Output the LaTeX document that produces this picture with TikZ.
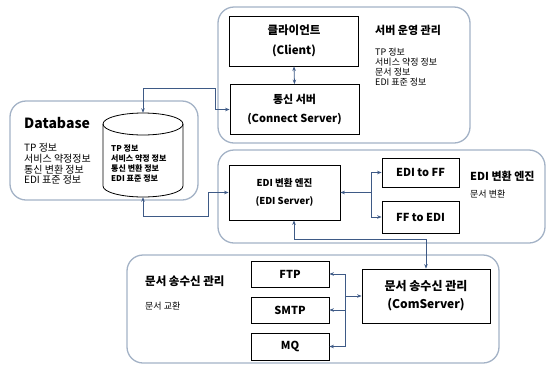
\documentclass[tikz,border=0pt]{standalone}
\usepackage{fontspec}
\setmainfont{Noto Sans CJK KR}
\usetikzlibrary{arrows.meta}
\definecolor{grpline}{HTML}{A3B2C6}
\definecolor{connline}{HTML}{3E5A86}
\newcommand{\fs}[2]{\fontsize{#1}{#2}\selectfont}
\tikzset{
  group/.style={draw=grpline, line width=1.3pt, rounded corners=16pt},
  box/.style={draw=black, line width=0.8pt, align=center, font=\fs{11}{19}\bfseries, inner sep=0pt},
  conn/.style={draw=connline, line width=0.8pt, arrows={-Stealth[length=4.5pt,width=3.5pt]}},
  biconn/.style={conn, arrows={Stealth[length=4.5pt,width=3.5pt]-Stealth[length=4.5pt,width=3.5pt]}},
  title/.style={anchor=west, inner sep=0pt, font=\fs{11}{13}\bfseries},
  info/.style={anchor=west, inner sep=0pt, align=left, font=\fs{9}{10}},
}
\begin{document}
\begin{tikzpicture}[x=1pt,y=-1pt]
\useasboundingbox (0,0) rectangle (547,365);

% group frames
\draw[group] (218,7) rectangle (470,143);
\draw[group] (10,101) rectangle (198,200);
\draw[group] (218,150) rectangle (545,243);
\draw[group] (127,255) rectangle (499,363);

% server operation group
\node[box, font=\fs{11.5}{20}\bfseries, minimum width=129pt, minimum height=50pt] (client) at (294,41) {클라이언트\\(Client)};
\node[box, minimum width=129pt, minimum height=50pt] (cs) at (294.5,109.5) {통신 서버\\(Connect Server)};
\node[title] (t1) at (375,30) {서버 운영 관리};
\node[info] (l1) at (375,67) {TP 정보\\서비스 약정 정보\\문서 정보\\EDI 표준 정보};

% database group: cylinder drawn by hand around an invisible anchor node
\node[anchor=west, inner sep=0pt, font=\fs{14}{16}\bfseries] (tdb) at (24,123) {Database};
\node[info, font=\fs{10}{10.6}] (ldb) at (24,164) {TP 정보\\서비스 약정정보\\통신 변환 정보\\EDI 표준 정보};
\node[minimum width=80pt, minimum height=84pt, inner sep=0pt] (db) at (143,155) {};
\draw[line width=0.8pt] (143,124) ellipse[x radius=40, y radius=11];
\draw[line width=0.8pt] (103,124) -- (103,186) arc[start angle=180, end angle=0, x radius=40, y radius=11] -- (183,124);
\node[info, font=\fs{8}{9.7}\bfseries] (ldbc) at (111,163.5) {TP 정보\\서비스 약정 정보\\통신 변환 정보\\EDI 표준 정보};

% EDI conversion group
\node[box, font=\fs{9.5}{18}\bfseries, minimum width=111pt, minimum height=55pt] (edi) at (284.5,192.5) {EDI 변환 엔진\\(EDI Server)};
\node[box, minimum width=77pt, minimum height=29pt] (e2f) at (420.5,172.5) {EDI to FF};
\node[box, minimum width=77pt, minimum height=32pt] (f2e) at (420.5,217) {FF to EDI};
\node[title] (t2) at (470,176) {EDI 변환 엔진};
\node[info] (l2) at (470,194) {문서 변환};

% document exchange group
\node[box, minimum width=78pt, minimum height=26pt] (ftp) at (290,274) {FTP};
\node[box, minimum width=78pt, minimum height=26pt] (smtp) at (290,310) {SMTP};
\node[box, minimum width=78pt, minimum height=27pt] (mq) at (290,346.5) {MQ};
\node[box, font=\fs{12}{18}\bfseries, minimum width=128pt, minimum height=54pt] (com) at (426,296) {문서 송수신 관리\\(ComServer)};
\node[title, font=\fs{11.5}{13}\bfseries] (t3) at (145,281) {문서 송수신 관리};
\node[info] (l3) at (145,306) {문서 교환};

% connectors
\coordinate (j1) at (215,88);
\coordinate (j2) at (208,216);
\coordinate (j3) at (371,192.5);
\coordinate (j4) at (426,239);
\coordinate (j5) at (345,296);

\draw[biconn] (client.south) -- (cs.north);
\draw[biconn] (db.north) |- (j1) |- (cs.west);
\draw[biconn] (db.south) |- (j2) |- (edi.west);

\draw[conn] (j3) -- (edi.east);
\draw[conn] (j3) |- (e2f.west);
\draw[conn] (j3) |- (f2e.west);

\draw[biconn] ([xshift=9.5pt]edi.south) |- (j4) -- (com.north);

\draw[conn] (j5) -- (com.west);
\draw[conn] (j5) |- (ftp.east);
\draw[conn] (j5) |- (smtp.east);
\draw[conn] (j5) |- (mq.east);
\end{tikzpicture}
\end{document}
